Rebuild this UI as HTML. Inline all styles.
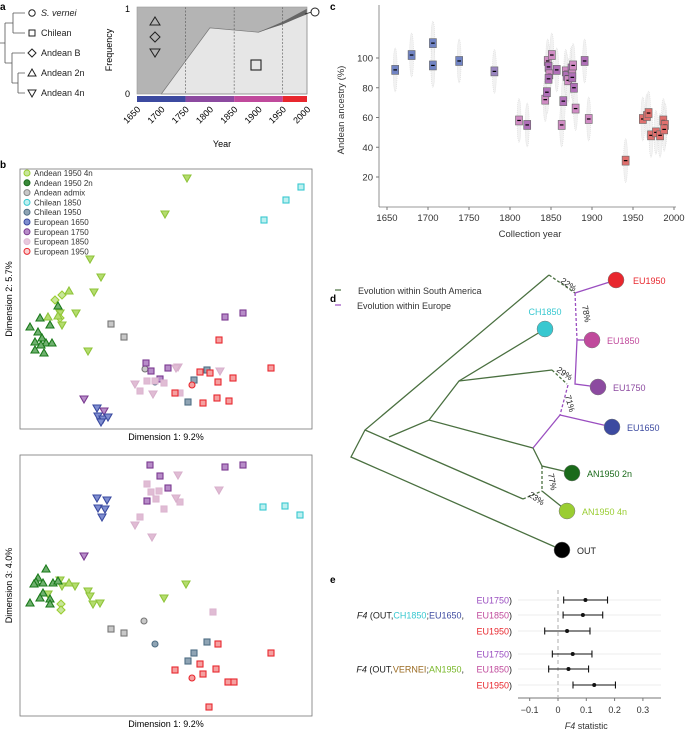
<!DOCTYPE html>
<html><head><meta charset="utf-8">
<style>
html,body{margin:0;padding:0;background:#fff;}
svg{display:block;font-family:"Liberation Sans",sans-serif;}
</style></head>
<body>
<svg id="fig" width="685" height="732" viewBox="0 0 685 732" xmlns="http://www.w3.org/2000/svg">
<g id="pa">
<text x="0" y="10" font-size="10" font-weight="bold">a</text>
<g stroke="#555" stroke-width="0.8" fill="none">
<path d="M0,43 H5 M5,23 V63 M5,23 H13 M13,13 V33 M13,13 H25 M13,33 H25 M5,63 H12 M12,53 V83 M12,53 H25 M12,83 H18 M18,73 V93 M18,73 H25 M18,93 H25"/>
</g>
<g font-size="9" fill="#222">
<circle cx="32" cy="13" r="3.2" fill="none" stroke="#222"/><text x="41" y="16" font-style="italic">S. vernei</text>
<rect x="29" y="30" width="6" height="6" fill="none" stroke="#222"/><text x="41" y="36">Chilean</text>
<path d="M32,49 L36,53 L32,57 L28,53Z" fill="none" stroke="#222"/><text x="41" y="56">Andean B</text>
<path d="M32,69 L36,76 L28,76Z" fill="none" stroke="#222"/><text x="41" y="76">Andean 2n</text>
<path d="M28,90 L36,90 L32,97Z" fill="none" stroke="#222"/><text x="41" y="96">Andean 4n</text>
</g>
<g id="area"></g>
</g>
<g id="pb"></g>
<g id="pc"></g>
<g id="pd"></g>
<g id="pe"></g>
</svg>
<script>
const NS="http://www.w3.org/2000/svg";
function mk(p,t,a,txt){const e=document.createElementNS(NS,t);for(const k in a)e.setAttribute(k,a[k]);if(txt!==undefined)e.textContent=txt;p.appendChild(e);return e;}

// ---- Panel a data ----
const aYears=[1650,1700,1750,1800,1850,1900,1950,2000];
const chileYears=[1700,1750,1800,1900,2000];
const chileFreq=[0,0.38,0.76,0.71,0.92];
const vernYears=[1900,1950,2000];
const vernLow=[0.71,0.8,0.92];
const vernHigh=[0.71,0.83,0.98];
const periodStarts=[1650,1750,1850,1950];
const periodEnds=[1750,1850,1950,2000];
const periodColors=["#3c4aa0","#8c4aa0","#c04a9c","#e8272e"];

// ---- Panel c data ----
const cYears=[1660,1680,1706,1706,1738,1781,1811,1821,1843,1845,1846,1847,1848,1847,1851,1857,1863,1865,1868,1869,1871,1875,1876,1876,1877,1878,1880,1891,1896,1941,1962,1967,1969,1972,1978,1983,1987,1989,1988];
const cVals=[92,102,110,95,98,91,58,55,72,77,98,94,89,86,102,92,55,71,91,88,85,93,89,87,95,80,66,98,59,31,59,61,63,48,50,48,58,55,52];
const cYTicks=[20,40,60,80,100];
const cXTicks=[1650,1700,1750,1800,1850,1900,1950,2000];

// ---- Panel e data ----
const eRowLabels=["EU1750)","EU1850)","EU1950)","EU1750)","EU1850)","EU1950)"];
const eMeans=[0.097,0.088,0.032,0.052,0.037,0.128];
const eLow=[0.02,0.018,-0.047,-0.02,-0.033,0.053];
const eHigh=[0.175,0.158,0.113,0.12,0.108,0.203];
const eTicks=[-0.1,0,0.1,0.2,0.3];

// ---- Panel b data (dimension scores, plot-relative units) ----
const groups=["A4n","A4nD","A4nU","A2n","Adm","AdmC","Ch50","Ch50C","Ch18","E17","E17T","E16T","E18","E18T","E19","E19C"];
const b1x={A4n:[167,145,70,81,74,56,40,42,68],A4nD:[35,42,40],A4nU:[49,38,28],A2n:[38,20,30,10,18,22,15,26,32,21,15,24],Adm:[91,104],AdmC:[125],Ch50:[187,174,168],Ch50C:[135],Ch18:[281,266,244],E17:[126,131,148,140,205,223],E17T:[64,84],E16T:[77,78,83,88,81],E18:[127,135,144,120,160],E18T:[115,158,133,200,156],E19:[199,180,190,198,213,251,155,183,197,209],E19C:[172]};
const b1y={A4n:[251,215,170,152,137,116,116,104,78],A4nD:[129,134,111],A4nU:[138,113,112],A2n:[123,111,104,102,97,91,87,86,86,84,79,76],Adm:[105,92],AdmC:[60],Ch50:[59,49,27],Ch50C:[47],Ch18:[242,229,209],E17:[66,58,61,50,112,116],E17T:[30,18],E16T:[21,13,10,12,7],E18:[48,48,46,38,36],E18T:[45,62,35,58,61],E19:[89,57,56,47,51,61,36,26,31,28],E19C:[44]};
const b2x={A4n:[40,55,68,70,42,73,80,166,144,28],A4nD:[41,41],A4nU:[49],A2n:[26,18,16,23,33,14,38,23,20,30,10,30],Adm:[91,104],AdmC:[124],Ch50:[187,174,168],Ch50C:[135],Ch18:[243,265,280],E17:[130,140,148,127,205,223],E17T:[64],E16T:[77,87,78,85,82],E18:[127,131,139,136,160,144,120,193],E18T:[158,156,199,115,132],E19:[198,251,180,196,183,155,208,214,189],E19C:[172]};
const b2y={A4n:[136,130,125,120,130,112,113,132,118,122],A4nD:[112,106],A4nU:[133],A2n:[147,138,134,133,133,132,135,123,118,117,113,112],Adm:[87,83],AdmC:[95],Ch50:[74,63,55],Ch50C:[72],Ch18:[209,210,201],E17:[251,240,228,215,249,251],E17T:[160],E16T:[218,216,208,207,199],E18:[232,224,225,217,214,207,199,104],E18T:[241,218,226,191,179],E19:[72,63,52,47,42,46,34,34,9],E19C:[38]};

const style={A4n:["tri-d","#b4dc6e","#8fc43a"],A4nD:["dia","#c8e69a","#9acd32"],A4nU:["tri","#b4dc6e","#8fc43a"],A2n:["tri","#6fb06f","#1a7a1a"],Adm:["sq","#c8c8c8","#777"],AdmC:["circ","#c8c8c8","#777"],Ch50:["sq","#8fa4b4","#4f6e84"],Ch50C:["circ","#8fa4b4","#4f6e84"],Ch18:["sq","#bdf0f0","#38c8d0"],E17:["sq","#b78cc8","#7a3a90"],E17T:["tri-d","#b78cc8","#7a3a90"],E16T:["tri-d","#7f8ed0","#3a4aa0"],E18:["sq","#e0bcd4","#dcb6d0"],E18T:["tri-d","#e0bcd4","#d8b0cc"],E19:["sq","#f5a0a0","#e8272e"],E19C:["circ","#f5a0a0","#e8272e"]};

function marker(p,kind,x,y,f,s,name){
  let e;
  if(kind==="sq")e=mk(p,"rect",{x:x-3,y:y-3,width:6,height:6});
  else if(kind==="circ")e=mk(p,"circle",{cx:x,cy:y,r:3});
  else if(kind==="tri")e=mk(p,"path",{d:`M${x},${y-4}L${x+4},${y+3}L${x-4},${y+3}Z`});
  else if(kind==="tri-d")e=mk(p,"path",{d:`M${x-4},${y-3}L${x+4},${y-3}L${x},${y+4}Z`});
  else e=mk(p,"path",{d:`M${x},${y-4}L${x+4},${y}L${x},${y+4}L${x-4},${y}Z`});
  e.setAttribute("fill",f);e.setAttribute("stroke",s);e.setAttribute("stroke-width","1.1");
  
  
}

// ===== Panel a chart =====
(function(){
  const g=document.getElementById("area");
  const ax=y=>137+(y-1650)*(170/350), ay=v=>94-v*87;
  mk(g,"rect",{x:137,y:7,width:170,height:87,fill:"#b4b4b4"});
  let d=`M${ax(chileYears[0])},${ay(0)}`;
  chileYears.forEach((y,i)=>d+=`L${ax(y)},${ay(chileFreq[i])}`);
  d+=`L${ax(2000)},${ay(0)}Z`;
  const ch=mk(g,"path",{d:d,fill:"#e6e6e6",stroke:"#777","stroke-width":0.7});
  
  let d2="M"+vernYears.map((y,i)=>`${ax(y)},${ay(vernLow[i])}`).join("L");
  for(let i=vernYears.length-1;i>=0;i--)d2+=`L${ax(vernYears[i])},${ay(vernHigh[i])}`;
  const vn=mk(g,"path",{d:d2+"Z",fill:"#666"});
  
  [1750,1850,1950].forEach(y=>mk(g,"line",{x1:ax(y),x2:ax(y),y1:7,y2:94,stroke:"#555","stroke-width":0.6,"stroke-dasharray":"2,1.5"}));
  mk(g,"rect",{x:137,y:7,width:170,height:87,fill:"none",stroke:"#999","stroke-width":0.6});
  periodStarts.forEach((s,i)=>{const r=mk(g,"rect",{x:ax(s),y:96,width:ax(periodEnds[i])-ax(s),height:6,fill:periodColors[i]});
    });
  mk(g,"text",{x:130,y:12,"font-size":9,"text-anchor":"end"},"1");
  mk(g,"text",{x:130,y:97,"font-size":9,"text-anchor":"end"},"0");
  const yl=mk(g,"text",{x:112,y:50,"font-size":9,"text-anchor":"middle",transform:"rotate(-90 112 50)"},"Frequency");
  
  aYears.forEach(y=>{const t=mk(g,"text",{x:ax(y)+4,y:110,"font-size":9,"text-anchor":"end",transform:`rotate(-45 ${ax(y)+4} 110)`},String(y));
    });
  mk(g,"text",{x:222,y:147,"font-size":9,"text-anchor":"middle"},"Year");
  mk(g,"path",{d:"M155,17 L160,25 L150,25Z",fill:"none",stroke:"#222"});
  mk(g,"path",{d:"M155,32 L160,37 L155,42 L150,37Z",fill:"none",stroke:"#222"});
  mk(g,"path",{d:"M150,49 L160,49 L155,57Z",fill:"none",stroke:"#222"});
  mk(g,"rect",{x:251,y:60,width:10,height:10,fill:"none",stroke:"#222","stroke-width":1.1});
  mk(g,"line",{x1:305,y1:14,x2:312,y2:12,stroke:"#222","stroke-width":0.8});
  mk(g,"circle",{cx:315,cy:12,r:4,fill:"#fff",stroke:"#222"});
})();

// ===== Panel b =====
(function(){
  const g=document.getElementById("pb");
  mk(g,"text",{x:0,y:168,"font-size":10,"font-weight":"bold"},"b");
  const plots=[{top:169,bot:429,xs:b1x,ys:b1y,yl:"Dimension 2: 5.7%"},{top:455,bot:716,xs:b2x,ys:b2y,yl:"Dimension 3: 4.0%"}];
  plots.forEach((P,pi)=>{
    const sx=v=>20+v, sy=v=>P.bot-v;
    const r=mk(g,"rect",{x:20,y:P.top,width:292,height:P.bot-P.top,fill:"#fff",stroke:"#777","stroke-width":0.8});
    
    const yt=mk(g,"text",{x:12,y:(P.top+P.bot)/2,"font-size":9,"text-anchor":"middle",transform:`rotate(-90 12 ${(P.top+P.bot)/2})`},P.yl);
    
    const xt=mk(g,"text",{x:166,y:P.bot+11,"font-size":9,"text-anchor":"middle"},"Dimension 1: 9.2%");
    
    groups.forEach(k=>{const st=style[k];P.xs[k].forEach((v,i)=>marker(g,st[0],sx(v),sy(P.ys[k][i]),st[1],st[2],'pcoa-point'));});
  });
  const leg=[["Andean 1950 4n","#c8e69a","#9acd32"],["Andean 1950 2n","#3a8a3a","#1a6a1a"],["Andean admix","#c8c8c8","#888"],["Chilean 1850","#bdf0f0","#38c8d0"],["Chilean 1950","#8fa4b4","#4f6e84"],["European 1650","#7f8ed0","#3a4aa0"],["European 1750","#b78cc8","#7a3a90"],["European 1850","#e8c8dc","#e0bcd4"],["European 1950","#fbd0d0","#e8272e"]];
  leg.forEach((l,i)=>{const y=173+i*9.8;
    const c=mk(g,"circle",{cx:27,cy:y,r:3,fill:l[1],stroke:l[2],"stroke-width":1});
    
    mk(g,"text",{x:34,y:y+3,"font-size":8,fill:"#333"},l[0]);});
})();

// ===== Panel c =====
(function(){
  const g=document.getElementById("pc");
  mk(g,"text",{x:330,y:10,"font-size":10,"font-weight":"bold"},"c");
  const sx=y=>387+(y-1650)*(287/350), sy=v=>206.75-v*1.4875;
  mk(g,"line",{x1:379,x2:379,y1:5,y2:207,stroke:"#777","stroke-width":0.8});
  mk(g,"line",{x1:379,x2:676,y1:207,y2:207,stroke:"#777","stroke-width":0.8});
  cYTicks.forEach(v=>{mk(g,"line",{x1:376,x2:379,y1:sy(v),y2:sy(v),stroke:"#777"});
    const t=mk(g,"text",{x:373,y:sy(v)+3.5,"font-size":9.5,"text-anchor":"end",fill:"#333"},String(v));
    });
  cXTicks.forEach(v=>{mk(g,"line",{x1:sx(v),x2:sx(v),y1:207,y2:210,stroke:"#777"});
    const t=mk(g,"text",{x:sx(v),y:221,"font-size":9.5,"text-anchor":"middle",fill:"#333"},String(v));
    });
  mk(g,"text",{x:530,y:237,"font-size":9.5,"text-anchor":"middle",fill:"#333"},"Collection year");
  mk(g,"text",{x:344,y:110,"font-size":9.5,"text-anchor":"middle",fill:"#333",transform:"rotate(-90 344 110)"},"Andean ancestry (%)");
  cYears.forEach((y,i)=>{const v=cVals[i];
    const e=mk(g,"ellipse",{cx:sx(y),cy:sy(v),rx:2,ry:22,fill:"#f2f2f2",stroke:"#d4d4d4","stroke-width":0.5,"stroke-dasharray":"1,1"});
    });
  cYears.forEach((y,i)=>{const v=cVals[i];
    const col=y<1750?"#7184c4":(y<1800?"#9a86c0":(y<1900?(i%2?"#b070b8":"#d08cc4"):"#e0706e"));
    const r=mk(g,"rect",{x:sx(y)-3.5,y:sy(v)-4.5,width:7,height:9,fill:col,stroke:"#666","stroke-width":0.6});
    
    mk(g,"line",{x1:sx(y)-1.8,x2:sx(y)+1.8,y1:sy(v),y2:sy(v),stroke:"#000","stroke-width":1.2});});
})();

// ===== Panel d =====
(function(){
  const g=document.getElementById("pd");
  mk(g,"text",{x:330,y:302,"font-size":10,"font-weight":"bold"},"d");
  const G="#4a7040",P="#9a4ec0";
  mk(g,"line",{x1:335,x2:341,y1:290,y2:290,stroke:G,"stroke-width":1.2});
  mk(g,"text",{x:358,y:294,"font-size":9,fill:"#333"},"Evolution within South America");
  mk(g,"line",{x1:335,x2:341,y1:305,y2:305,stroke:P,"stroke-width":1.2});
  mk(g,"text",{x:357,y:309,"font-size":9,fill:"#333"},"Evolution within Europe");
  const L=(pts,c,dash)=>{const e=mk(g,"polyline",{points:pts,fill:"none",stroke:c,"stroke-width":1.3});if(dash)e.setAttribute("stroke-dasharray","3,2");};
  L("562,550 351,457 365,430 549,275",G);
  L("365,430 523,499",G);
  L("389,437 429,420 533,448",G);
  L("429,420 459,381 545,329",G);
  L("459,381 552,370",G);
  L("552,370 567,384",G,1);
  L("533,448 542,466 572,473",G);
  L("542,466 542,491",G,1);
  L("523,499 542,491",G,1);
  L("542,491 567,511",G);
  L("549,275 575,293",G,1);
  L("575,293 616,280",P);
  L("575,293 577,340",P,1);
  L("577,340 575,384 598,387",P);
  L("577,340 592,340",P);
  L("568,385 560,415",P,1);
  L("560,415 533,448",P);
  L("560,415 612,427",P);
  const nodes=[[616,280,"#e8272e","EU1950",633,284],[545,329,"#38c8d0","CH1850",545,315],[592,340,"#c04a9c","EU1850",607,344],[598,387,"#8c4aa0","EU1750",613,391],[612,427,"#3c4aa0","EU1650",627,431],[572,473,"#1a6a1a","AN1950 2n",587,477],[567,511,"#9acd32","AN1950 4n",582,515],[562,550,"#000","OUT",577,554]];
  nodes.forEach(n=>{const c=mk(g,"circle",{cx:n[0],cy:n[1],r:8,fill:n[2],stroke:"#777","stroke-width":0.5});
    
    mk(g,"text",{x:n[4],y:n[5],"font-size":9,fill:n[2]==="#000"?"#222":n[2],"text-anchor":n[1]===329?"middle":"start"},n[3]);});
  const pct=[["22%",560,282,35],["78%",582,306,80],["29%",556,371,35],["71%",565,396,75],["77%",548,474,80],["23%",528,496,35]];
  pct.forEach(p=>mk(g,"text",{x:p[1],y:p[2],"font-size":8.5,fill:"#222",transform:`rotate(${p[3]} ${p[1]} ${p[2]})`},p[0]));
})();

// ===== Panel e =====
(function(){
  const g=document.getElementById("pe");
  mk(g,"text",{x:330,y:583,"font-size":10,"font-weight":"bold"},"e");
  const sx=v=>558+v*283, rowY=[600,615,631,654,669,685];
  const rowCol=["#9a4ec0","#c04a9c","#e8272e","#9a4ec0","#c04a9c","#e8272e"];
  rowY.forEach(y=>mk(g,"line",{x1:518,x2:661,y1:y,y2:y,stroke:"#eee","stroke-width":1}));
  mk(g,"line",{x1:sx(0),x2:sx(0),y1:590,y2:697,stroke:"#bbb","stroke-width":1.2,"stroke-dasharray":"4,3"});
  mk(g,"line",{x1:518,x2:661,y1:698,y2:698,stroke:"#777"});
  eTicks.forEach(v=>{mk(g,"line",{x1:sx(v),x2:sx(v),y1:698,y2:701,stroke:"#777"});
    const t=mk(g,"text",{x:sx(v),y:713,"font-size":9,"text-anchor":"middle",fill:"#333"},v<0?"\u22120.1":(v===0?"0":String(v)));
    });
  const xt=mk(g,"text",{x:sx(0.1),y:729,"font-size":9,"text-anchor":"middle",fill:"#333"});
  xt.innerHTML='<tspan font-style="italic">F4</tspan> statistic';
  rowY.forEach((y,i)=>{
    const t=mk(g,"text",{x:512,y:y+3.5,"font-size":9,"text-anchor":"end",fill:rowCol[i]},eRowLabels[i].slice(0,-1));
    mk(t,"tspan",{fill:"#222"},")");
    const e=mk(g,"line",{x1:sx(eLow[i]),x2:sx(eHigh[i]),y1:y,y2:y,stroke:"#111","stroke-width":1.1});
    
    mk(g,"line",{x1:sx(eLow[i]),x2:sx(eLow[i]),y1:y-3.5,y2:y+3.5,stroke:"#111","stroke-width":1.1});
    mk(g,"line",{x1:sx(eHigh[i]),x2:sx(eHigh[i]),y1:y-3.5,y2:y+3.5,stroke:"#111","stroke-width":1.1});
    const c=mk(g,"circle",{cx:sx(eMeans[i]),cy:y,r:2,fill:"#111"});
    });
  const g1=mk(g,"text",{x:464,y:618.5,"font-size":9,"text-anchor":"end",fill:"#222"});
  g1.innerHTML='<tspan font-style="italic">F4</tspan> (OUT,<tspan fill="#38c8d0">CH1850</tspan>;<tspan fill="#3c4aa0">EU1650</tspan>,';
  const g2=mk(g,"text",{x:464,y:672.5,"font-size":9,"text-anchor":"end",fill:"#222"});
  g2.innerHTML='<tspan font-style="italic">F4</tspan> (OUT,<tspan fill="#9a6a20">VERNEI</tspan>;<tspan fill="#7ab82a">AN1950</tspan>,';
})();
</script>
</body></html>
